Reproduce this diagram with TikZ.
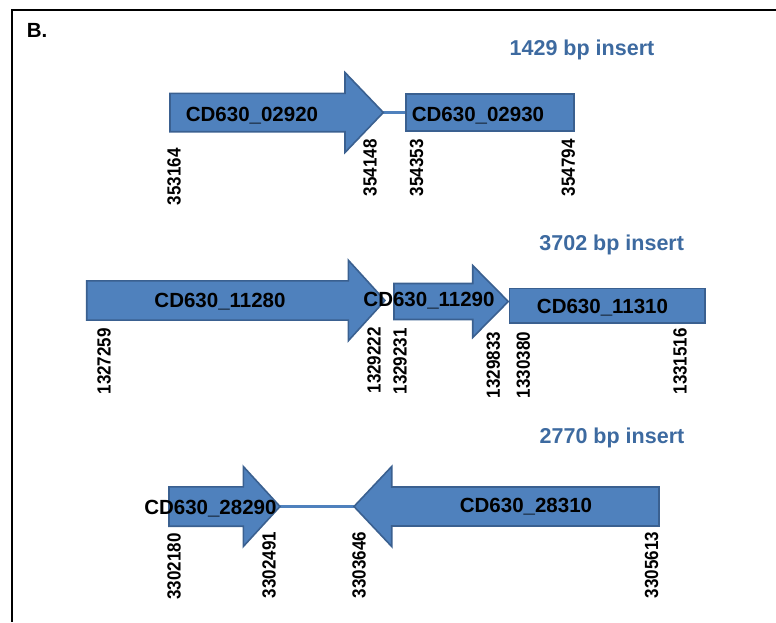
\documentclass[tikz,border=0pt]{standalone}
\usepackage{fontspec}
\setmainfont{Liberation Sans}
\definecolor{genefill}{HTML}{4F81BD}
\definecolor{geneline}{HTML}{3A6090}
\definecolor{insertblue}{HTML}{3D6AA0}

\begin{document}
\begin{tikzpicture}[x=1pt, y=-1pt,
    gene/.style={draw=geneline, fill=genefill, line width=1.6pt},
    genebox/.style={gene, rectangle, inner sep=0pt},
    linker/.style={draw=genefill, line width=3.5pt},
    genename/.style={font=\fontsize{20.5}{24}\selectfont\bfseries, anchor=base, inner sep=0pt},
    bplabel/.style={font=\fontsize{17}{20}\selectfont\bfseries, rotate=90, anchor=east, inner sep=0pt},
    insertlabel/.style={font=\fontsize{21.5}{26}\selectfont\bfseries, text=insertblue, anchor=base, inner sep=0pt}
]
    \useasboundingbox (0,0) rectangle (776,622);

    % frame
    \draw[line width=2.5pt] (776,10) -- (12,10) -- (12,622);
    \node[font=\fontsize{20.5}{24}\selectfont\bfseries, anchor=base west, inner sep=0pt] (panel) at (26.7,37.3) {B.};

    % 1429 bp insert
    \node[insertlabel] (ins1429) at (582,55.7) {1429 bp insert};
    \coordinate (tip02920) at (383.3,112.5);
    \node[genebox, minimum width=168pt, minimum height=36.5pt] (g02930) at (490,112.5) {};
    \draw[linker] (tip02920) -- (g02930.west);
    \draw[gene] (170,93.3) -- (345,93.3) -- (345,72.5) -- (tip02920) -- (345,152.5) -- (345,131.7) -- (170,131.7) -- cycle;
    \node[genename] (n02920) at (252,121.4) {CD630\_02920};
    \node[genename] (n02930) at (478,121.4) {CD630\_02930};
    \node[bplabel] (p353164) at (174,148.3) {\scalebox{1}[1.12]{353164}};
    \node[bplabel] (p354148) at (370,139.3) {\scalebox{1}[1.12]{354148}};
    \node[bplabel] (p354353) at (416.7,139.3) {\scalebox{1}[1.12]{354353}};
    \node[bplabel] (p354794) at (568.3,139.3) {\scalebox{1}[1.12]{354794}};

    % 3702 bp insert
    \node[insertlabel] (ins3702) at (611.7,250) {3702 bp insert};
    \coordinate (tip11280) at (385,300.5);
    \coordinate (tip11290) at (508.3,301.5);
    \draw[gene] (86.7,280.9) -- (348.3,280.9) -- (348.3,260.2) -- (tip11280) -- (348.3,340.8) -- (348.3,320.1) -- (86.7,320.1) -- cycle;
    \draw[gene] (394,283.5) -- (472.7,283.5) -- (472.7,265.5) -- (tip11290) -- (472.7,337.5) -- (472.7,319.5) -- (394,319.5) -- cycle;
    \node[genebox, minimum width=195.7pt, minimum height=34.4pt] (g11310) at (607.2,305.5) {};
    \node[genename] (n11280) at (220,307.3) {CD630\_11280};
    \node[genename] (n11290) at (429,306) {CD630\_11290};
    \node[genename] (n11310) at (602.5,313.3) {CD630\_11310};
    \node[bplabel] (p1327259) at (104,328) {\scalebox{1}[1.12]{1327259}};
    \node[bplabel] (p1329222) at (374,327) {\scalebox{1}[1.12]{1329222}};
    \node[bplabel] (p1329231) at (400,328) {\scalebox{1}[1.12]{1329231}};
    \node[bplabel] (p1329833) at (493.3,331.7) {\scalebox{1}[1.12]{1329833}};
    \node[bplabel] (p1330380) at (523.3,331.7) {\scalebox{1}[1.12]{1330380}};
    \node[bplabel] (p1331516) at (680,328) {\scalebox{1}[1.12]{1331516}};

    % 2770 bp insert
    \node[insertlabel] (ins2770) at (612,443) {2770 bp insert};
    \coordinate (tip28290) at (280,506.5);
    \coordinate (tip28310) at (354,506.5);
    \draw[linker] (tip28290) -- (tip28310);
    \draw[gene] (169,486.8) -- (243.3,486.8) -- (243.3,466.5) -- (tip28290) -- (243.3,546.5) -- (243.3,526.2) -- (169,526.2) -- cycle;
    \draw[gene] (659,487) -- (391.7,487) -- (391.7,466.5) -- (tip28310) -- (391.7,546.5) -- (391.7,526) -- (659,526) -- cycle;
    \node[genename] (n28290) at (210.4,514) {CD630\_28290};
    \node[genename] (n28310) at (526,512.5) {CD630\_28310};
    \node[bplabel] (p3302180) at (174,533.3) {\scalebox{1}[1.12]{3302180}};
    \node[bplabel] (p3302491) at (269,531.7) {\scalebox{1}[1.12]{3302491}};
    \node[bplabel] (p3303646) at (359,531.7) {\scalebox{1}[1.12]{3303646}};
    \node[bplabel] (p3305613) at (651.7,531.7) {\scalebox{1}[1.12]{3305613}};
\end{tikzpicture}
\end{document}
